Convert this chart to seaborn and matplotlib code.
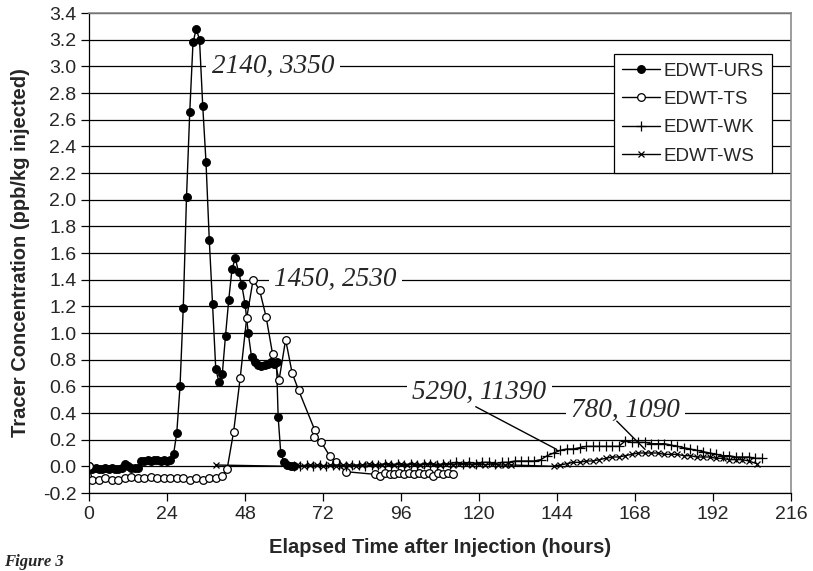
import matplotlib
matplotlib.use("Agg")
import matplotlib.pyplot as plt
import pandas as pd
import seaborn as sns

# EDWT-URS (filled circles)
urs_hours = [0, 1, 2, 3, 4, 5, 6, 7, 8, 9, 10, 11, 12, 13, 14, 15, 16, 17, 18, 19,
             20, 21, 22, 23, 24, 25, 26, 27, 28, 29, 30, 31, 32, 33, 34, 35, 36, 37, 38, 39,
             40, 41, 42, 43, 44, 45, 46, 47, 48, 49, 50, 51, 52, 53, 54, 55, 56, 57, 57.7, 58.2,
             59, 60, 61, 62, 63]
urs_conc = [0.00, -0.02, -0.01, -0.02, -0.02, -0.01, -0.02, -0.01, -0.02, -0.02, -0.01, 0.02, 0.00, -0.01, -0.01, -0.01, 0.04, 0.04, 0.05, 0.04,
            0.05, 0.05, 0.04, 0.05, 0.04, 0.05, 0.09, 0.25, 0.60, 1.19, 2.02, 2.66, 3.18, 3.28, 3.20, 2.70, 2.28, 1.70, 1.22, 0.73,
            0.63, 0.69, 0.98, 1.25, 1.48, 1.56, 1.46, 1.36, 1.22, 1.00, 0.82, 0.78, 0.76, 0.75, 0.76, 0.77, 0.78, 0.77, 0.78, 0.37,
            0.10, 0.03, 0.01, 0.00, 0.00]

# EDWT-TS (open circles)
ts_hours = [0, 1, 3, 5, 7, 9, 11, 13, 15, 17, 19, 21, 23, 25, 27, 29, 31, 33, 35, 37, 39, 41,
            42.5, 44.5, 46.5, 48.5, 50.5, 52.5, 54.5, 56.5, 58.5, 60.5, 62.5, 64.5,
            69.5, 69.3, 71.5, 74, 76, 79,
            88, 89.5, 91, 92.5, 94, 95.5, 97, 98.5, 100, 101.5, 103, 104.5, 106, 107.5, 109, 110.5, 112]
ts_conc = [0.00, -0.10, -0.10, -0.09, -0.10, -0.10, -0.09, -0.08, -0.09, -0.09, -0.08, -0.09, -0.09, -0.09, -0.09, -0.09, -0.10, -0.09, -0.10, -0.09, -0.09, -0.07,
           -0.02, 0.26, 0.66, 1.11, 1.40, 1.32, 1.12, 0.84, 0.65, 0.95, 0.70, 0.57,
           0.27, 0.22, 0.18, 0.08, 0.03, -0.04,
           -0.06, -0.07, -0.05, -0.06, -0.06, -0.05, -0.06, -0.05, -0.06, -0.05, -0.06, -0.05, -0.07, -0.05, -0.06, -0.05, -0.06]

# EDWT-WK (plus)
wk_hours = [63, 65, 67, 69, 71, 73, 75, 77, 79, 81, 83, 85, 87, 89, 91, 93, 95, 97, 99, 101,
            103, 105, 107, 109, 111, 113, 115, 117, 119, 121, 123, 125, 127, 129, 131, 133, 135, 137, 139, 141,
            143, 145, 147, 149, 151, 153, 155, 157, 159, 161, 163, 165, 167, 169, 171, 173, 175, 177, 179, 181,
            183, 185, 187, 189, 191, 193, 195, 197, 199, 201, 203, 205, 207]
wk_conc = [0.00, 0.00, 0.01, 0.00, 0.01, 0.00, 0.01, 0.01, 0.00, 0.01, 0.01, 0.00, 0.01, 0.01, 0.02, 0.01, 0.02, 0.01, 0.02, 0.01,
           0.02, 0.02, 0.01, 0.02, 0.02, 0.03, 0.02, 0.03, 0.02, 0.03, 0.03, 0.02, 0.03, 0.03, 0.04, 0.04, 0.04, 0.04, 0.05, 0.08,
           0.10, 0.12, 0.13, 0.13, 0.14, 0.15, 0.15, 0.15, 0.15, 0.15, 0.15, 0.19, 0.18, 0.18, 0.18, 0.17, 0.17, 0.17, 0.16, 0.15,
           0.14, 0.13, 0.12, 0.11, 0.10, 0.09, 0.08, 0.08, 0.07, 0.07, 0.07, 0.06, 0.06]

# EDWT-WS (cross)
ws_hours = [39, 62, 64, 66, 68, 70, 72, 74, 76, 78, 80, 82, 84, 86, 88, 90, 92, 94, 96, 98,
            100, 102, 104, 106, 108, 110, 112, 114, 116, 118, 120, 122, 124, 126, 128, 130,
            143, 145, 147, 149, 151, 153, 155, 157, 159, 161, 163, 165, 167, 169, 171, 173, 175, 177, 179, 181,
            183, 185, 187, 189, 191, 193, 195, 197, 199, 201, 203, 205.5]
ws_conc = [0.01, 0.00, 0.01, 0.00, 0.01, 0.01, 0.00, 0.01, 0.00, 0.01, 0.01, 0.00, 0.01, 0.02, 0.01, 0.01, 0.02, 0.01, 0.02, 0.01,
           0.02, 0.01, 0.02, 0.02, 0.01, 0.02, 0.01, 0.02, 0.02, 0.01, 0.02, 0.01, 0.02, 0.01, 0.01, 0.01,
           0.00, 0.01, 0.02, 0.03, 0.03, 0.04, 0.04, 0.05, 0.06, 0.07, 0.07, 0.08, 0.09, 0.10, 0.10, 0.10, 0.10, 0.09, 0.09, 0.09,
           0.08, 0.08, 0.07, 0.07, 0.07, 0.06, 0.06, 0.05, 0.05, 0.05, 0.04, 0.02]

x_ticks = [0, 24, 48, 72, 96, 120, 144, 168, 192, 216]
y_ticks = [-0.2, 0.0, 0.2, 0.4, 0.6, 0.8, 1.0, 1.2, 1.4, 1.6, 1.8, 2.0, 2.2, 2.4, 2.6, 2.8, 3.0, 3.2, 3.4]

sns.set_style("white")
plt.rcParams['font.family'] = ['Liberation Sans', 'DejaVu Sans']
plt.rcParams['axes.unicode_minus'] = False

fig, ax = plt.subplots(figsize=(8.13, 5.71), dpi=100)
fig.subplots_adjust(left=0.1095, right=0.9729, top=0.9772, bottom=0.1366)


def draw(hours, conc, name, marker, size, face):
    df = pd.DataFrame({"hours": hours, "conc": conc})
    sns.lineplot(data=df, x="hours", y="conc", ax=ax, color="black", lw=1,
                 marker=marker, markersize=size, markerfacecolor=face,
                 markeredgecolor="black", markeredgewidth=0.9,
                 sort=False, estimator=None, label=name)


draw(urs_hours, urs_conc, "EDWT-URS", "o", 5.5, "black")
draw(ts_hours, ts_conc, "EDWT-TS", "o", 5.5, "white")
draw(wk_hours, wk_conc, "EDWT-WK", "+", 7, "black")
draw(ws_hours, ws_conc, "EDWT-WS", "x", 5, "black")

ax.set_xlim(0, 216)
ax.set_ylim(-0.2, 3.4)
ax.set_xticks(x_ticks)
ax.set_yticks(y_ticks)
ax.set_yticklabels([f"{v:.1f}" for v in y_ticks])
ax.tick_params(axis="both", labelsize=14, direction="out", length=5.5, width=0.9,
               color="black", left=True, bottom=True, pad=3.5)
ax.set_axisbelow(True)
ax.yaxis.grid(True, color="black", lw=0.9)
ax.xaxis.grid(False)
for side in ["left", "bottom"]:
    ax.spines[side].set_color("black")
    ax.spines[side].set_linewidth(0.9)
for side in ["top", "right"]:
    ax.spines[side].set_color("#8c8c8c")
    ax.spines[side].set_linewidth(1.2)

ax.set_xlabel("Elapsed Time after Injection (hours)", fontsize=14.5, fontweight="bold", labelpad=11)
ax.set_ylabel("Tracer Concentration (ppb/kg injected)", fontsize=14.5, fontweight="bold", labelpad=9)

note = dict(fontsize=19.5, style="italic", family="Liberation Serif", va="center", ha="left", zorder=5,
            bbox=dict(boxstyle="square,pad=0.2", facecolor="white", edgecolor="none"))
ax.text(37.8, 3.0, "2140, 3350", **note)
ax.text(56.9, 1.4, "1450, 2530", **note)
ax.text(99.4, 0.555, "5290, 11390", **note)
ax.text(148.3, 0.42, "780, 1090", **note)
ax.plot([119.0, 143.9], [0.447, 0.127], color="black", lw=1, zorder=6)
ax.plot([162.4, 171.1], [0.339, 0.127], color="black", lw=1, zorder=6)

handles, labels = ax.get_legend_handles_labels()
ax.legend(handles, labels, loc="upper right", bbox_to_anchor=(0.973, 0.9146), borderaxespad=0,
          frameon=True, fancybox=False, edgecolor="black", framealpha=1, fontsize=13.5,
          labelspacing=0.6, handlelength=2.0, handletextpad=0.2, borderpad=0.45)
ax.get_legend().get_frame().set_linewidth(0.9)

fig.text(0.005, 0.002, "Figure 3", fontsize=12, style="italic", fontweight="bold",
         family="Liberation Serif", va="bottom", ha="left")

fig.savefig("out.png", dpi=100)
